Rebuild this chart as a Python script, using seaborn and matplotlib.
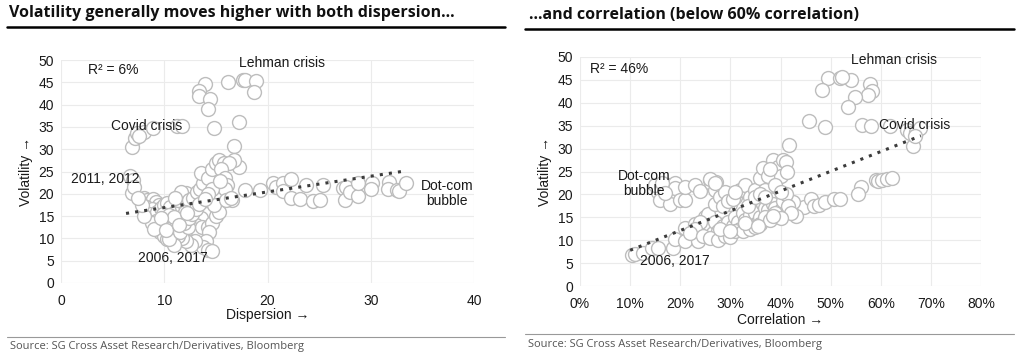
import numpy as np
import pandas as pd
import matplotlib
matplotlib.use("Agg")
import matplotlib.pyplot as plt
import seaborn as sns

# Left panel: dispersion vs volatility
disp = [13.9, 13.4, 13.4, 14.4, 14.2, 16.2, 17.6, 17.8, 18.9, 18.7, 14.8, 17.2, 16.8, 17.2, 16.8,
        6.9, 7.2, 7.4, 8.0, 8.9, 11.2, 11.7, 7.6,
        6.7, 7.0, 6.9, 7.1,
        19.3, 17.8, 16.6, 20.5, 20.8, 21.5, 22.3, 21.5, 22.3, 23.1, 23.7, 24.4, 25.1, 25.4,
        27.3, 27.6, 27.5, 28.0, 28.8, 28.8, 30.1, 30.0, 31.8, 31.7, 32.5, 32.7, 33.4,
        8.0, 8.3, 8.6, 8.9, 9.2, 9.5, 8.2, 8.8, 9.0, 8.5, 9.3, 9.7, 10.0, 10.3, 10.6, 9.1, 9.4, 9.8,
        10.1, 10.4, 9.6, 10.0, 10.3, 10.8, 11.1, 10.7, 11.2, 11.5, 11.0, 11.7, 12.0, 11.3, 11.8, 12.1,
        11.6, 11.0, 12.4, 12.8, 13.2, 13.5, 13.8, 13.6, 14.2, 14.6, 15.0, 15.3, 15.8, 16.3, 15.5, 15.9,
        16.1, 15.7, 14.9, 14.4, 14.0, 13.6, 13.1, 12.8, 12.5, 12.9, 13.3, 13.7, 14.2, 14.6, 15.0, 15.3,
        14.8, 14.3, 14.0, 13.8, 14.2, 14.6, 13.0, 12.6, 12.1, 11.7, 11.3, 10.9, 10.5, 11.5, 12.3, 11.9,
        12.4, 12.7, 13.1, 13.4, 12.0, 9.2, 8.8, 9.9, 10.5, 10.9, 8.0, 7.8, 7.5, 15.9, 16.0, 16.5,
        14.6, 14.2, 13.9, 15.4, 9.0, 9.7, 10.2, 11.4, 12.2]
vol_l = [44.6, 43.0, 42.0, 41.3, 39.0, 45.0, 45.5, 45.5, 45.4, 42.8, 34.7, 36.0, 30.8, 25.9, 27.5,
         30.6, 32.6, 33.6, 33.8, 34.7, 35.2, 35.2, 33.0,
         23.9, 23.0, 20.1, 21.6,
         20.9, 20.9, 18.7, 22.5, 21.6, 22.5, 23.3, 20.7, 19.0, 18.8, 22.0, 18.3, 18.7, 22.0,
         21.3, 21.6, 18.7, 20.5, 19.4, 22.4, 22.4, 21.1, 22.6, 21.1, 20.9, 20.7, 22.4,
         19.0, 18.5, 18.0, 18.8, 18.2, 17.5, 17.0, 16.5, 15.0, 15.5, 16.0, 16.8, 17.5, 18.0, 17.0, 13.5,
         12.8, 13.0, 14.0, 12.5, 11.5, 10.5, 9.8, 11.0, 12.3, 13.5, 14.5, 15.5, 16.0, 17.0, 17.5, 18.5,
         19.5, 20.2, 20.5, 19.0, 18.5, 19.0, 20.5, 21.0, 22.5, 24.7, 23.5, 25.5, 27.0, 27.5, 26.8, 27.0,
         25.5, 23.5, 22.0, 20.5, 19.0, 17.0, 15.5, 14.5, 13.0, 12.0, 11.0, 10.0, 11.5, 12.5, 12.5, 13.5,
         15.0, 16.0, 17.5, 11.5, 9.5, 8.0, 7.3, 7.2, 9.5, 8.5, 9.5, 10.0, 10.5, 8.5, 9.8, 11.5,
         12.5, 13.5, 14.5, 15.5, 16.5, 17.8, 16.0, 14.0, 13.5, 15.5, 15.2, 14.8, 15.0, 17.5, 19.0, 21.0,
         18.5, 19.0, 21.0, 20.0, 18.8, 22.8, 12.0, 14.5, 11.8, 13.0, 15.8]
trend_l_x = [6.3, 33.0]
trend_l_y = [15.6, 25.0]

# Right panel: correlation vs volatility
corr = [49.5, 51.9, 48.2, 54.0, 57.8, 58.2, 57.5, 54.9, 53.5, 45.7, 48.9, 56.2, 58.0,
        61.8, 65.2, 65.8, 67.1, 67.8, 66.4, 66.8, 52.2,
        41.7, 59.0, 59.5, 60.2, 61.2, 62.2, 56.0, 55.5,
        44.7, 46.1, 46.7, 47.7, 48.9, 50.7, 51.9, 43.0, 42.4, 41.0,
        15.6, 15.9, 17.6, 18.0, 18.9, 18.9, 19.9, 20.9, 20.9, 22.9, 23.9, 26.0, 26.1, 27.1, 26.9,
        15.0, 16.3, 17.0,
        10.3, 11.0, 12.6, 14.3, 15.6, 18.6, 18.9, 20.9, 20.9, 22.9, 23.5, 24.9, 25.6,
        25.0, 26.0, 26.5, 27.0, 27.5, 28.0, 28.5, 29.0, 29.5, 30.0, 30.5, 31.0, 31.5, 32.0, 32.5,
        33.0, 33.5, 34.0, 34.5, 35.0, 35.5, 36.0, 36.5, 37.0, 37.5, 38.0, 38.5, 39.0, 39.5, 40.0,
        40.5, 41.0, 41.5, 42.0, 30.0, 31.0, 32.0, 33.0, 34.0, 35.0, 36.0, 36.5, 37.5, 38.5, 39.5,
        40.0, 40.5, 41.0, 41.2, 38.0, 37.0, 39.0, 40.0, 27.0, 28.0, 29.0, 28.5, 29.5, 30.5, 26.0,
        27.0, 31.0, 24.0, 23.0, 22.0, 24.5, 26.0, 27.5, 29.0, 30.0, 31.0, 32.5, 34.0, 35.0, 36.0,
        37.0, 38.0, 39.0, 40.0, 33.5, 35.0, 36.0, 37.0, 28.0, 30.0, 33.0, 35.5, 38.5]
vol_r = [45.4, 45.5, 42.7, 45.0, 44.0, 42.5, 41.6, 41.3, 39.0, 36.0, 34.7, 35.2, 34.9,
         34.9, 34.0, 33.4, 33.7, 34.4, 30.5, 32.7, 45.6,
         30.7, 23.1, 22.9, 23.1, 23.3, 23.5, 21.7, 20.1,
         17.3, 18.9, 17.4, 17.6, 18.4, 19.0, 19.0, 15.3, 18.4, 17.9,
         20.6, 18.8, 22.0, 17.8, 22.4, 21.3, 18.8, 18.8, 21.7, 22.0, 20.7, 23.1, 22.4, 22.6, 20.9,
         22.0, 22.4, 20.3,
         6.8, 7.0, 7.3, 8.2, 8.4, 8.2, 10.2, 9.8, 12.6, 13.5, 9.8, 15.1, 15.8,
         12.0, 13.0, 11.5, 14.0, 12.0, 11.0, 13.0, 12.5, 14.0, 11.5, 13.0, 15.0, 14.0, 12.5, 16.0,
         14.5, 13.0, 15.5, 17.0, 16.0, 14.0, 15.0, 18.0, 17.0, 16.5, 19.0, 18.0, 17.0, 15.5, 16.5,
         18.5, 20.0, 17.5, 16.0, 18.0, 19.5, 21.0, 22.0, 19.5, 21.0, 23.5, 25.8, 24.0, 27.5, 26.0,
         24.0, 27.5, 27.0, 25.0, 25.5, 21.0, 22.0, 20.5, 18.0, 19.5, 20.5, 17.5, 18.5, 19.0, 23.3,
         22.5, 20.5, 14.0, 12.5, 11.5, 11.0, 10.5, 10.0, 11.0, 10.8, 12.0, 12.0, 12.5, 12.8, 13.5,
         15.0, 14.5, 16.0, 14.8, 17.5, 19.5, 20.0, 19.5, 12.5, 12.0, 13.8, 13.2, 15.2]
trend_r_x = [10.0, 68.0]
trend_r_y = [7.8, 32.8]

titles = ["Volatility generally moves higher with both dispersion\u2026",
          "\u2026and correlation (below 60% correlation)"]
source = "Source: SG Cross Asset Research/Derivatives, Bloomberg"

sns.set_theme(style="white")
plt.rcParams['font.family'] = ['Liberation Sans', 'DejaVu Sans']

fig = plt.figure(figsize=(10.24, 3.6), dpi=100)
ax1 = fig.add_axes([61 / 1024, 1 - 283 / 360, 413 / 1024, 223 / 360])
ax2 = fig.add_axes([580 / 1024, 1 - 286 / 360, 401 / 1024, 229 / 360])

left = pd.DataFrame({'x': disp, 'y': vol_l})
right = pd.DataFrame({'x': np.array(corr) / 100, 'y': vol_r})

pt_style = dict(s=100, facecolor='white', edgecolor='#bdbdbd', linewidth=1.0, legend=False, zorder=3)
sns.scatterplot(data=left, x='x', y='y', ax=ax1, **pt_style)
sns.scatterplot(data=right, x='x', y='y', ax=ax2, **pt_style)
ax1.plot(trend_l_x, trend_l_y, color='#3c3c3c', linestyle=(0, (1, 2)), linewidth=2.2, zorder=4)
ax2.plot(np.array(trend_r_x) / 100, trend_r_y, color='#3c3c3c', linestyle=(0, (1, 2)), linewidth=2.2, zorder=4)

for ax in (ax1, ax2):
    ax.set_ylim(0, 50)
    ax.set_yticks(range(0, 51, 5))
    ax.grid(True, color='#ebebeb', linewidth=0.8, zorder=0)
    for sp in ax.spines.values():
        sp.set_visible(False)
    ax.tick_params(length=0, labelsize=10, colors='#1a1a1a')
    ax.tick_params(axis='y', pad=5)
    ax.tick_params(axis='x', pad=8)
    ax.set_ylabel('Volatility \u2192', fontsize=10, color='#1a1a1a', labelpad=4)

ax1.set_xlim(0, 40)
ax1.set_xticks(range(0, 41, 10))
ax1.set_xlabel('Dispersion \u2192', fontsize=10, color='#1a1a1a', labelpad=0)
ax2.set_xlim(0, 0.8)
ax2.set_xticks(np.arange(0, 0.81, 0.1))
ax2.set_xticklabels([f"{v}%" for v in range(0, 81, 10)])
ax2.set_xlabel('Correlation \u2192', fontsize=10, color='#1a1a1a', labelpad=1)

ann = dict(fontsize=10, color='#1a1a1a', zorder=5)
ax1.text(2.6, 46.8, 'R\u00b2 = 6%', **ann)
ax1.text(17.2, 48.5, 'Lehman crisis', **ann)
ax1.text(4.8, 34.2, 'Covid crisis', **ann)
ax1.text(1.0, 22.5, '2011, 2012', **ann)
ax1.text(7.5, 4.6, '2006, 2017', **ann)
ax1.text(37.4, 17.5, 'Dot-com\nbubble', ha='center', linespacing=1.1, **ann)

ax2.text(0.02, 46.5, 'R\u00b2 = 46%', **ann)
ax2.text(0.54, 48.4, 'Lehman crisis', **ann)
ax2.text(0.596, 34.2, 'Covid crisis', **ann)
ax2.text(0.128, 19.8, 'Dot-com\nbubble', ha='center', linespacing=1.1, **ann)
ax2.text(0.12, 4.5, '2006, 2017', **ann)

# headers and source lines
for (tx, ty, lx0, lx1, ly, sx, sy, sly), title in zip(
        [(9, 13, 7, 505, 27, 10, 347, 337), (529, 15, 525, 1014, 29, 528, 344, 334)], titles):
    fig.text(tx / 1024, 1 - ty / 360, title, fontsize=11.5, fontweight='bold',
             family='Open Sans', va='center', color='#111111')
    fig.add_artist(plt.Line2D([lx0 / 1024, lx1 / 1024], [1 - ly / 360, 1 - ly / 360],
                              color='black', linewidth=1.8))
    fig.add_artist(plt.Line2D([lx0 / 1024, lx1 / 1024], [1 - sly / 360, 1 - sly / 360],
                              color='#999999', linewidth=0.8))
    fig.text(sx / 1024, 1 - sy / 360, source, fontsize=8, family='Open Sans',
             va='center', color='#555555')

fig.savefig('out.png', dpi=100, facecolor='white')
